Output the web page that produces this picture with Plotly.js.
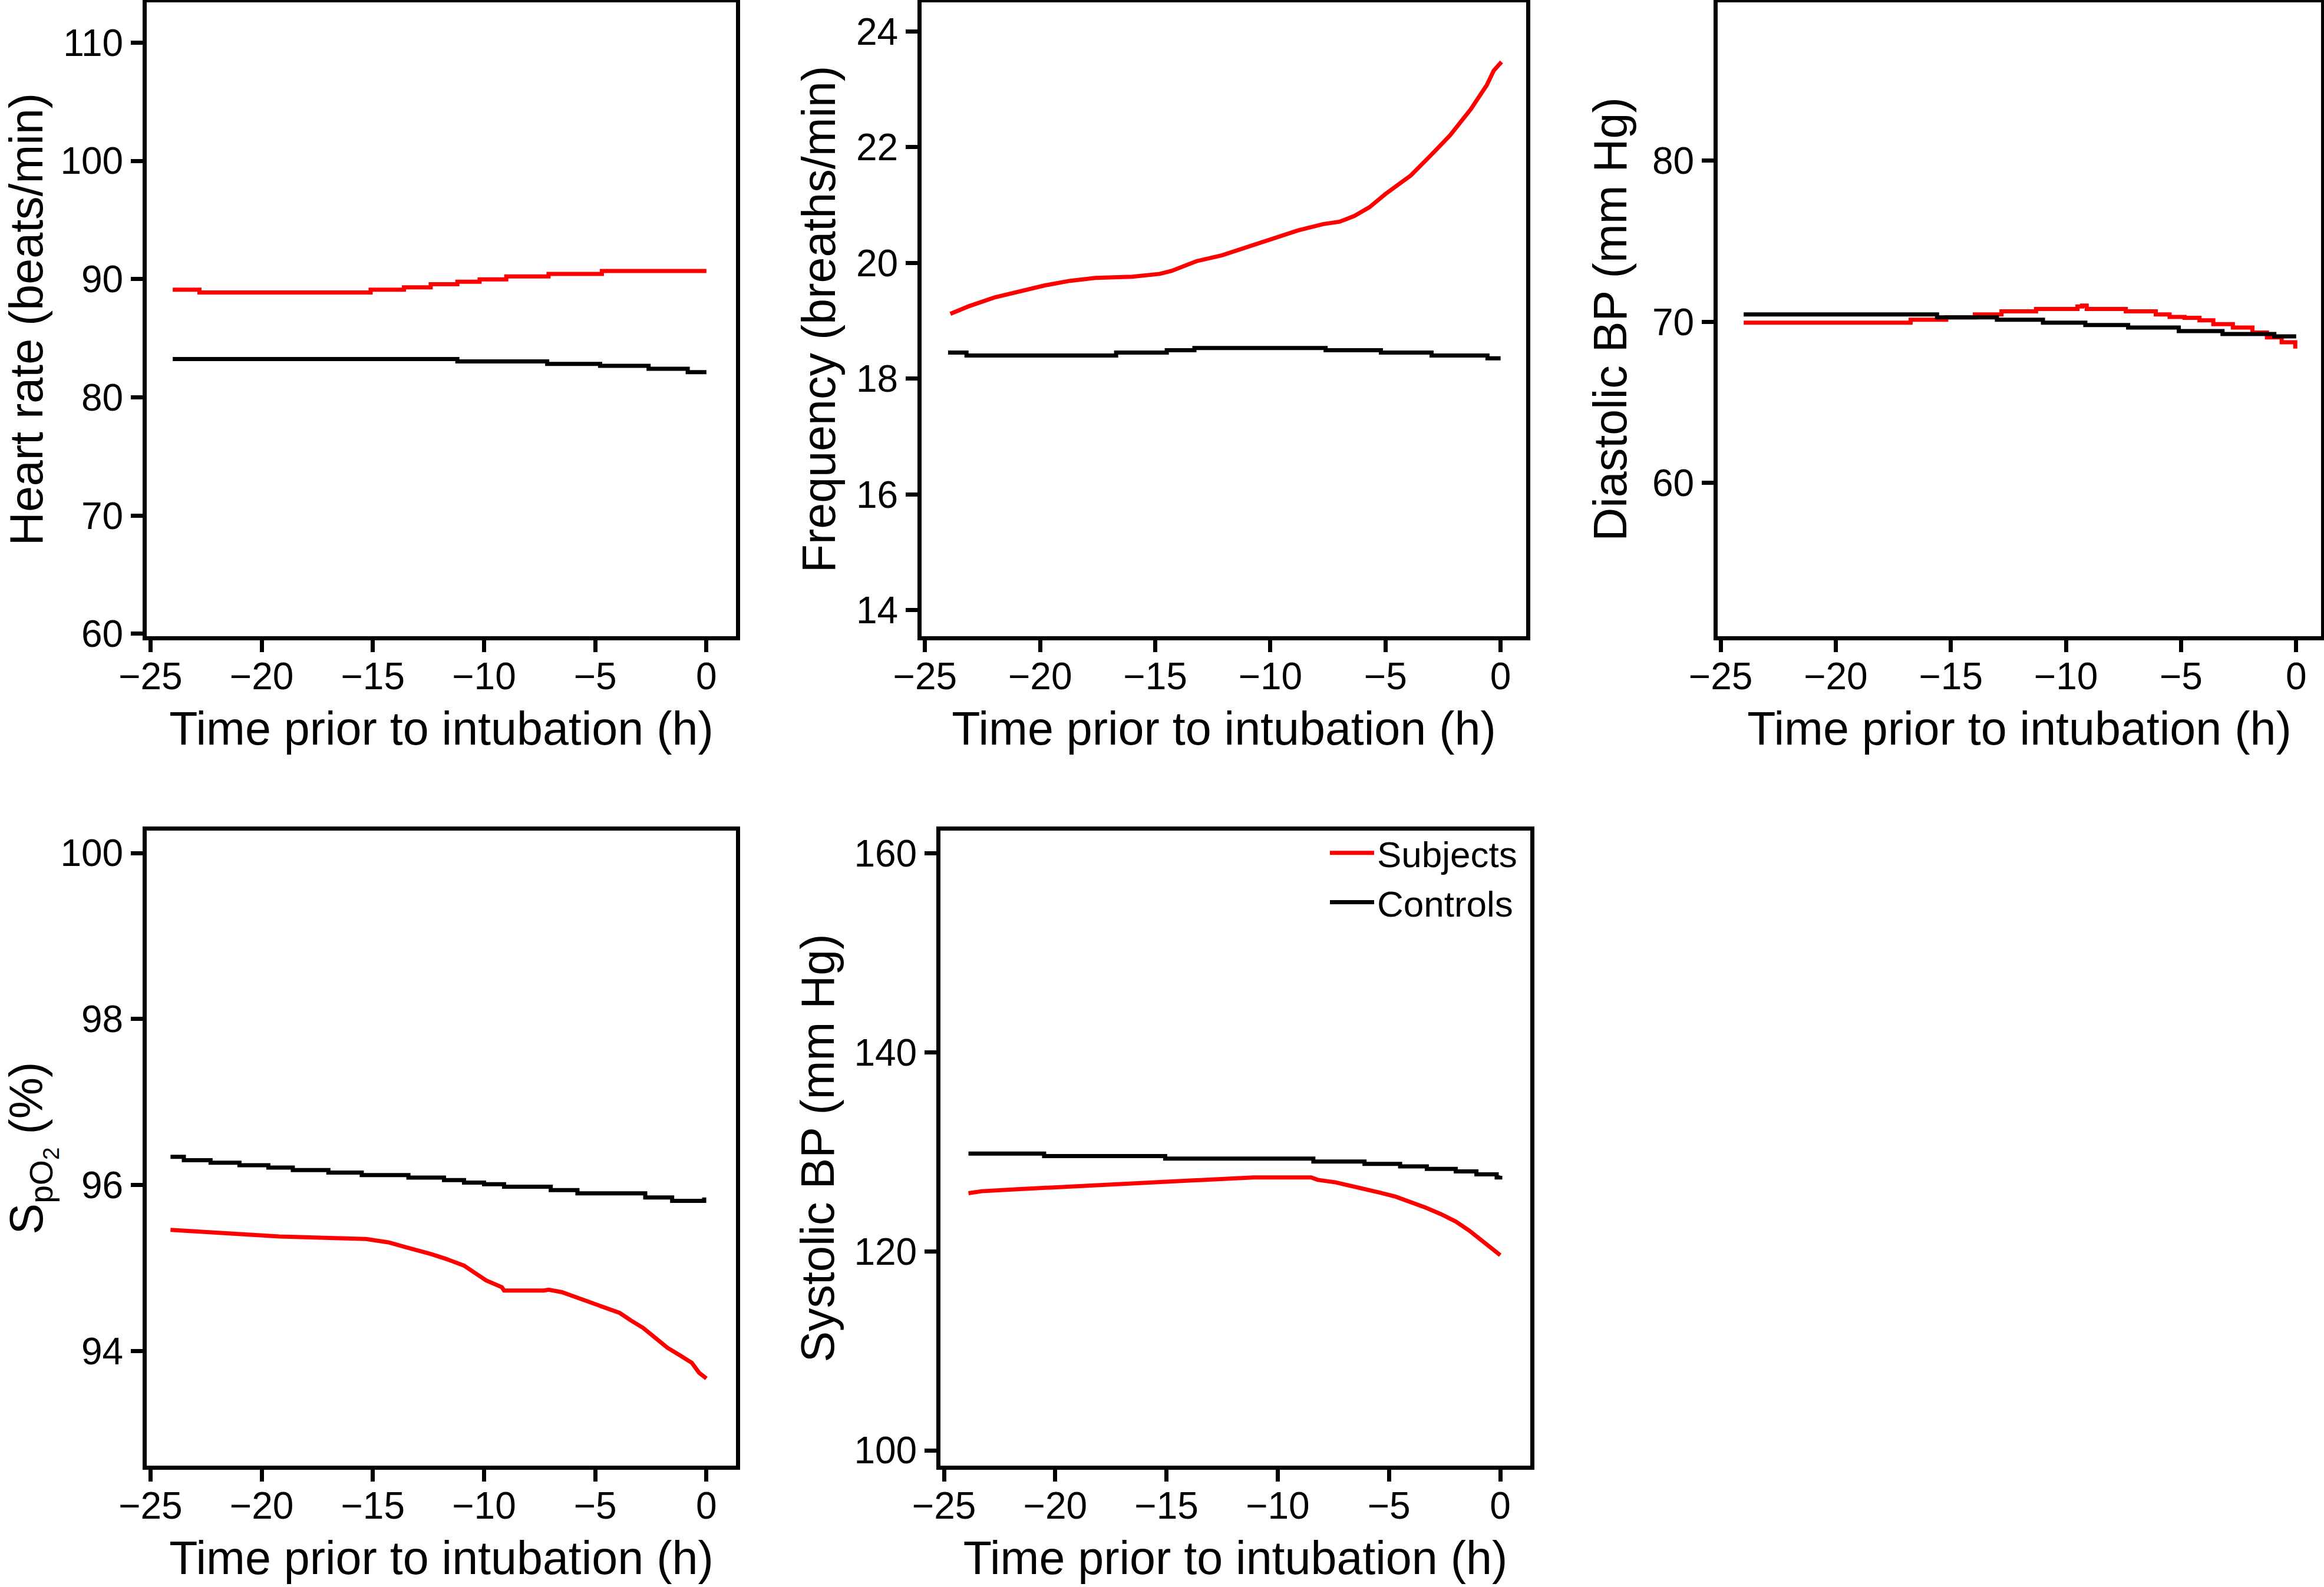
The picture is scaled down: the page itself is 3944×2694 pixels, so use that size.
<!DOCTYPE html>
<html>
<head>
<meta charset="utf-8">
<script src="https://cdn.plot.ly/plotly-3.0.1.min.js"></script>
<style>html,body{margin:0;padding:0;background:#fff;}#chart{width:3944px;height:2694px;}</style>
</head>
<body>
<div id="chart"></div>
<script>
// ---- Data ----
var seriesNames = ["Subjects", "Controls"];
var xTitle = "Time prior to intubation (h)";

// Heart rate (beats/min)
var hrSubjX = [-24, -22.8, -15.1, -13.6, -12.4, -11.2, -10.2, -9.0, -7.1, -4.7, 0];
var hrSubjY = [89.1, 88.87, 89.1, 89.3, 89.57, 89.78, 89.98, 90.23, 90.44, 90.69, 90.69];
var hrCtrlX = [-24, -11.2, -7.16, -4.78, -2.6, -0.84, 0];
var hrCtrlY = [83.24, 83.04, 82.83, 82.66, 82.41, 82.13, 82.13];

// Frequency (breaths/min)
var rrSubjX = [-23.9, -23.1, -22.0, -20.9, -19.8, -18.7, -17.6, -16.0, -14.8, -14.3, -13.2, -12.1, -11.0, -9.9, -8.8, -7.7, -7.0, -6.35, -5.7, -5.0, -3.9, -3.05, -2.2, -1.3, -0.6, -0.3, 0.04];
var rrSubjY = [19.12, 19.25, 19.40, 19.51, 19.61, 19.69, 19.74, 19.76, 19.81, 19.86, 20.03, 20.13, 20.27, 20.41, 20.56, 20.67, 20.71, 20.81, 20.96, 21.19, 21.51, 21.85, 22.20, 22.65, 23.07, 23.32, 23.47];
var rrCtrlX = [-24, -23.2, -16.7, -14.5, -13.3, -7.6, -5.2, -3.0, -0.57, 0];
var rrCtrlY = [18.45, 18.40, 18.45, 18.49, 18.53, 18.49, 18.45, 18.40, 18.35, 18.35];

// Diastolic BP (mm Hg)
var dbpSubjX = [-24, -16.75, -15.2, -13.96, -12.8, -11.3, -9.5, -9.3, -9.1, -7.4, -6.1, -5.5, -4.85, -4.2, -3.6, -2.75, -1.9, -1.27, -0.63, -0.04];
var dbpSubjY = [69.94, 70.12, 70.27, 70.45, 70.64, 70.79, 70.94, 71.0, 70.79, 70.64, 70.45, 70.3, 70.24, 70.09, 69.85, 69.64, 69.33, 69.03, 68.73, 68.33];
var dbpCtrlX = [-24, -15.6, -13.0, -11.0, -9.16, -7.3, -5.1, -3.2, -0.95, 0];
var dbpCtrlY = [70.45, 70.27, 70.12, 69.94, 69.79, 69.64, 69.42, 69.24, 69.09, 69.09];

// SpO2 (%)
var spoSubjX = [-24.1, -22.9, -21.3, -19.2, -15.3, -14.3, -13.5, -12.7, -12.4, -11.7, -10.9, -10.4, -9.9, -9.2, -9.1, -7.3, -7.1, -6.5, -5.8, -5.2, -4.5, -3.9, -3.4, -2.85, -2.3, -1.75, -1.2, -0.66, -0.33, 0];
var spoSubjY = [95.46, 95.44, 95.41, 95.38, 95.35, 95.31, 95.25, 95.2, 95.17, 95.11, 95.03, 94.94, 94.85, 94.77, 94.73, 94.73, 94.74, 94.71, 94.64, 94.58, 94.52, 94.46, 94.37, 94.28, 94.16, 94.04, 93.95, 93.86, 93.74, 93.67];
var spoCtrlX = [-24.1, -23.5, -22.3, -21.0, -19.7, -18.6, -17.0, -15.5, -13.4, -11.8, -10.9, -10.0, -9.1, -7.0, -5.8, -2.75, -1.54, -0.1];
var spoCtrlY = [96.34, 96.30, 96.27, 96.24, 96.21, 96.18, 96.15, 96.12, 96.09, 96.06, 96.03, 96.01, 95.98, 95.94, 95.90, 95.85, 95.81, 95.85];

// Systolic BP (mm Hg)
var sbpSubjX = [-23.9, -23.3, -21.7, -19.95, -18.1, -15.6, -13.5, -11.1, -8.5, -8.2, -7.4, -6.76, -6.1, -5.4, -4.7, -4.05, -3.35, -2.67, -2.0, -1.4, -0.85, -0.4, 0];
var sbpSubjY = [125.85, 126.05, 126.25, 126.44, 126.69, 126.94, 127.19, 127.44, 127.44, 127.19, 126.94, 126.64, 126.25, 125.9, 125.5, 125.0, 124.4, 123.75, 123.0, 122.1, 121.1, 120.27, 119.62];
var sbpCtrlX = [-23.9, -20.5, -15.06, -8.4, -6.1, -4.5, -3.3, -2.0, -1.07, -0.16, 0];
var sbpCtrlY = [129.83, 129.58, 129.33, 129.03, 128.79, 128.54, 128.29, 128.04, 127.74, 127.44, 127.6];

// Axis titles and ticks
var yTitles = ["Heart rate (beats/min)", "Frequency (breaths/min)", "Diastolic BP (mm Hg)", "S<sub>pO<sub>2</sub></sub> (%)", "Systolic BP (mm Hg)"];
var yTickVals = [[60, 70, 80, 90, 100, 110], [14, 16, 18, 20, 22, 24], [60, 70, 80], [94, 96, 98, 100], [100, 120, 140, 160]];
var xTickVals = [-25, -20, -15, -10, -5, 0];

// ---- Styling / layout ----
var RED = "#ff0000", BLACK = "#000000";
var FONT = "Liberation Sans, Arial, Helvetica, sans-serif";
var W = 3944, H = 2694;
var LW = 7;
var TICKSIZE = 64, TITLESIZE = 79;

function tr(x, y, color, name, axIdx, showLeg, shape) {
  var s = axIdx === 1 ? "" : String(axIdx);
  return {
    type: "scatter", mode: "lines", x: x, y: y, name: name,
    xaxis: "x" + s, yaxis: "y" + s,
    line: {color: color, width: LW, shape: shape || "linear"},
    showlegend: showLeg, legendgroup: name, hoverinfo: "skip"
  };
}

var data = [
  tr(hrSubjX, hrSubjY, RED, seriesNames[0], 1, false, "hv"),
  tr(hrCtrlX, hrCtrlY, BLACK, seriesNames[1], 1, false, "hv"),
  tr(rrSubjX, rrSubjY, RED, seriesNames[0], 2, false, "linear"),
  tr(rrCtrlX, rrCtrlY, BLACK, seriesNames[1], 2, false, "hv"),
  tr(dbpSubjX, dbpSubjY, RED, seriesNames[0], 3, false, "hv"),
  tr(dbpCtrlX, dbpCtrlY, BLACK, seriesNames[1], 3, false, "hv"),
  tr(spoSubjX, spoSubjY, RED, seriesNames[0], 4, false, "linear"),
  tr(spoCtrlX, spoCtrlY, BLACK, seriesNames[1], 4, false, "hv"),
  tr(sbpSubjX, sbpSubjY, RED, seriesNames[0], 5, true, "linear"),
  tr(sbpCtrlX, sbpCtrlY, BLACK, seriesNames[1], 5, true, "hv")
];

// pixel boxes of the five panels [left, right, top, bottom]
var boxes = [
  [249, 1249, 4, 1080],
  [1564, 2590, 4, 1080],
  [2915, 3939, 4, 1080],
  [249, 1249, 1410, 2488],
  [1596, 2597, 1410, 2488]
];
var xRanges = [[-25.17, 1.33], [-25.15, 1.11], [-25.13, 1.08], [-25.17, 1.33], [-25.16, 1.35]];
var yRanges = [[59.8, 113.4], [13.55, 24.5], [50.5, 89.8], [92.62, 100.27], [98.46, 162.3]];
var yStandoffs = [22, 12, 20, 22, 10];

var layout = {
  width: W, height: H,
  margin: {l: 0, r: 0, t: 0, b: 0, pad: 0},
  paper_bgcolor: "#ffffff", plot_bgcolor: "#ffffff",
  font: {family: FONT, size: TICKSIZE, color: "#000"},
  showlegend: true,
  legend: {
    x: 2580 / W, xanchor: "right", y: 1 - 1401 / H, yanchor: "top",
    bgcolor: "rgba(0,0,0,0)", borderwidth: 0,
    font: {family: FONT, size: 62, color: "#000"},
    itemwidth: 75, tracegroupgap: 0
  }
};

for (var i = 0; i < 5; i++) {
  var b = boxes[i];
  var s = i === 0 ? "" : String(i + 1);
  var common = {
    showline: true, linewidth: 7, linecolor: "#000", mirror: true,
    ticks: "outside", ticklen: 20, tickwidth: 7, tickcolor: "#000",
    showgrid: false, zeroline: false,
    tickfont: {family: FONT, size: TICKSIZE, color: "#000"}
  };
  layout["xaxis" + s] = Object.assign({}, common, {
    domain: [b[0] / W, b[1] / W], anchor: "y" + s,
    range: xRanges[i], tickmode: "array", tickvals: xTickVals,
    ticktext: xTickVals.map(function (v) { return v < 0 ? "\u2212" + Math.abs(v) : String(v); }),
    ticklabelstandoff: -14,
    title: {text: xTitle, font: {family: FONT, size: TITLESIZE, color: "#000"}, standoff: 28}
  });
  layout["yaxis" + s] = Object.assign({}, common, {
    domain: [1 - b[3] / H, 1 - b[2] / H], anchor: "x" + s,
    range: yRanges[i], tickmode: "array", tickvals: yTickVals[i],
    title: {text: yTitles[i], font: {family: FONT, size: TITLESIZE, color: "#000"}, standoff: yStandoffs[i]}
  });
}

Plotly.newPlot("chart", data, layout, {displayModeBar: false, staticPlot: true});
</script>
</body>
</html>
